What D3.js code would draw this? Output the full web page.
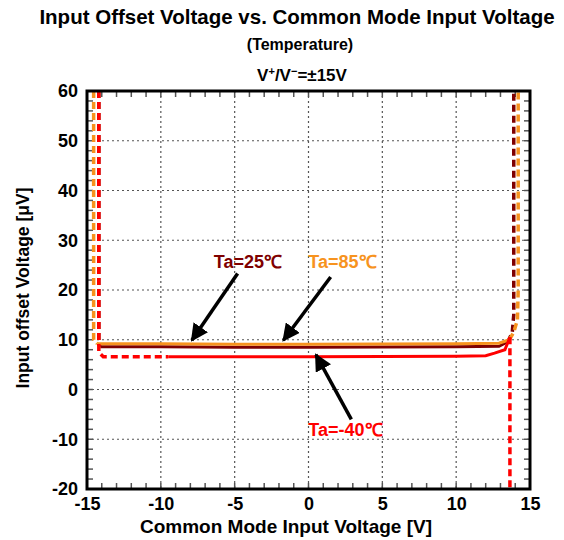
<!DOCTYPE html>
<html>
<head>
<meta charset="utf-8">
<script src="https://cdn.jsdelivr.net/npm/d3@7"></script>
<style>
  body { margin: 0; background: #fff; }
  text { font-family: "Liberation Sans", Arial, sans-serif; font-weight: bold; }
</style>
</head>
<body>
<div id="chart"></div>
<script>
// axis ticks
const xTicks = [-15, -10, -5, 0, 5, 10, 15];
const yTicks = [-20, -10, 0, 10, 20, 30, 40, 50, 60];

// series: solid part and dashed parts, [x (V), y (uV)]
const ta85Solid = [[-14.3, 9.2], [-10, 9.2], [-5, 9.1], [0, 9.1], [5, 9.15], [10, 9.2], [12.9, 9.3], [13.6, 10]];
const ta85Dash = [[[-14.55, 60], [-14.55, 10], [-14.3, 9.2]], [[13.6, 10], [13.9, 11.5], [14.15, 14], [14.2, 20], [14.2, 60]]];

const ta25Solid = [[-14.1, 8.6], [-10, 8.6], [-5, 8.5], [0, 8.5], [5, 8.55], [10, 8.6], [12.9, 8.7], [13.5, 9.6]];
const ta25Dash = [[[-14.2, 60], [-14.2, 9], [-14.1, 8.6]], [[13.5, 9.6], [13.8, 11.5], [13.9, 15], [13.9, 60]]];

const taM40Solid = [[-9.5, 6.6], [-5, 6.6], [0, 6.6], [5, 6.65], [10, 6.7], [12.0, 6.8], [12.6, 7.3], [13.3, 8.0], [13.64, 10.5]];
const taM40Dash = [[[-14.2, 60], [-14.2, 7.5], [-13.9, 6.6], [-9.5, 6.6]], [[13.64, 10.5], [13.64, -20]]];

// annotations: label, label position, arrow tail, arrow tip (data coords)
const notes = [
  { text: "Ta=25℃", color: "#7f0000", label: [-4.1, 25.6], tail: [-4.8, 23.3], tip: [-7.9, 9.9] },
  { text: "Ta=85℃", color: "#f7931e", label: [2.3, 25.6], tail: [1.5, 22.6], tip: [-1.7, 9.9] },
  { text: "Ta=-40℃", color: "#ff0000", label: [2.5, -8.1], tail: [2.9, -6.0], tip: [0.5, 7.0] }
];

const W = 564, H = 540;
const margin = { top: 91, right: 34, bottom: 51, left: 87 };
const width = W - margin.left - margin.right;
const height = H - margin.top - margin.bottom;

const svg = d3.select("#chart").append("svg")
  .attr("width", W).attr("height", H);

// titles
svg.append("text").attr("x", 297).attr("y", 24).attr("text-anchor", "middle")
  .style("font-size", "20.5px").text("Input Offset Voltage vs. Common Mode Input Voltage");
svg.append("text").attr("x", 300).attr("y", 50).attr("text-anchor", "middle")
  .style("font-size", "16px").text("(Temperature)");
const cond = svg.append("text").attr("x", 302).attr("y", 81).attr("text-anchor", "middle")
  .style("font-size", "17px");
cond.append("tspan").text("V");
cond.append("tspan").attr("dy", -6).style("font-size", "11px").text("+");
cond.append("tspan").attr("dy", 6).text("/V");
cond.append("tspan").attr("dy", -6).style("font-size", "11px").text("−");
cond.append("tspan").attr("dy", 6).text("=±15V");

const g = svg.append("g").attr("transform", `translate(${margin.left},${margin.top})`);

const x = d3.scaleLinear().domain([-15, 15]).range([0, width]);
const y = d3.scaleLinear().domain([-20, 60]).range([height, 0]);

// grid
g.append("g").selectAll("line").data(xTicks.slice(1, -1)).join("line")
  .attr("x1", d => x(d)).attr("x2", d => x(d)).attr("y1", 0).attr("y2", height)
  .attr("stroke", "#555").attr("stroke-width", 1.2).attr("stroke-dasharray", "2,3");
g.append("g").selectAll("line").data(yTicks.slice(1, -1)).join("line")
  .attr("y1", d => y(d)).attr("y2", d => y(d)).attr("x1", 0).attr("x2", width)
  .attr("stroke", "#555").attr("stroke-width", 1.2).attr("stroke-dasharray", "2,3");

// minor ticks inside on all four sides
const xMinor = d3.range(-14, 15, 1);
const yMinor = d3.range(-18, 60, 2);
const tk = g.append("g").attr("stroke", "#555").attr("stroke-width", 1.5);
tk.selectAll(".xb").data(xMinor).join("line").attr("class", "xb")
  .attr("x1", d => x(d)).attr("x2", d => x(d)).attr("y1", height).attr("y2", height - 6);
tk.selectAll(".xt").data(xMinor).join("line").attr("class", "xt")
  .attr("x1", d => x(d)).attr("x2", d => x(d)).attr("y1", 0).attr("y2", 6);
tk.selectAll(".yl").data(yMinor).join("line").attr("class", "yl")
  .attr("y1", d => y(d)).attr("y2", d => y(d)).attr("x1", 0).attr("x2", 6);
tk.selectAll(".yr").data(yMinor).join("line").attr("class", "yr")
  .attr("y1", d => y(d)).attr("y2", d => y(d)).attr("x1", width).attr("x2", width - 6);

// axes labels
const xAxis = g.append("g").attr("transform", `translate(0,${height})`)
  .call(d3.axisBottom(x).tickValues(xTicks).tickFormat(d => String(d)).tickSize(0).tickPadding(8));
xAxis.select(".domain").remove();
xAxis.selectAll("text").style("font-size", "18px").attr("fill", "#000");

const yAxis = g.append("g")
  .call(d3.axisLeft(y).tickValues(yTicks).tickFormat(d => String(d)).tickSize(0).tickPadding(9));
yAxis.select(".domain").remove();
yAxis.selectAll("text").style("font-size", "18px").attr("fill", "#000");

svg.append("text").attr("x", 286).attr("y", 533).attr("text-anchor", "middle")
  .style("font-size", "19px").text("Common Mode Input Voltage [V]");
svg.append("text").attr("transform", `translate(29,${margin.top + height / 2 - 2}) rotate(-90)`)
  .attr("text-anchor", "middle").style("font-size", "17.5px").text("Input offset Voltage [μV]");

// curves
const line = d3.line().x(d => x(d[0])).y(d => y(d[1]));
const series = [
  { solid: ta25Solid, dash: ta25Dash, color: "#7f0000" },
  { solid: ta85Solid, dash: ta85Dash, color: "#f7931e" },
  { solid: taM40Solid, dash: taM40Dash, color: "#ff0000" }
];
const plot = g.append("g");
series.forEach(s => {
  s.dash.forEach(seg => {
    plot.append("path").attr("d", line(seg)).attr("fill", "none")
      .attr("stroke", s.color).attr("stroke-width", 3.5).attr("stroke-dasharray", "7,4");
  });
  plot.append("path").attr("d", line(s.solid)).attr("fill", "none")
    .attr("stroke", s.color).attr("stroke-width", 3);
});

// frame
g.append("rect").attr("width", width).attr("height", height)
  .attr("fill", "none").attr("stroke", "#000").attr("stroke-width", 3);

// annotations with arrows
svg.append("defs").append("marker").attr("id", "head")
  .attr("viewBox", "0 0 10 10").attr("refX", 9).attr("refY", 5)
  .attr("markerWidth", 5).attr("markerHeight", 5).attr("orient", "auto")
  .append("path").attr("d", "M0,0 L10,5 L0,10 z").attr("fill", "#000");

notes.forEach(n => {
  g.append("line")
    .attr("x1", x(n.tail[0])).attr("y1", y(n.tail[1]))
    .attr("x2", x(n.tip[0])).attr("y2", y(n.tip[1]))
    .attr("stroke", "#000").attr("stroke-width", 3.5).attr("marker-end", "url(#head)");
  g.append("text").attr("x", x(n.label[0])).attr("y", y(n.label[1]) + 6)
    .attr("text-anchor", "middle").attr("fill", n.color)
    .style("font-size", "18px").text(n.text);
});
</script>
</body>
</html>
